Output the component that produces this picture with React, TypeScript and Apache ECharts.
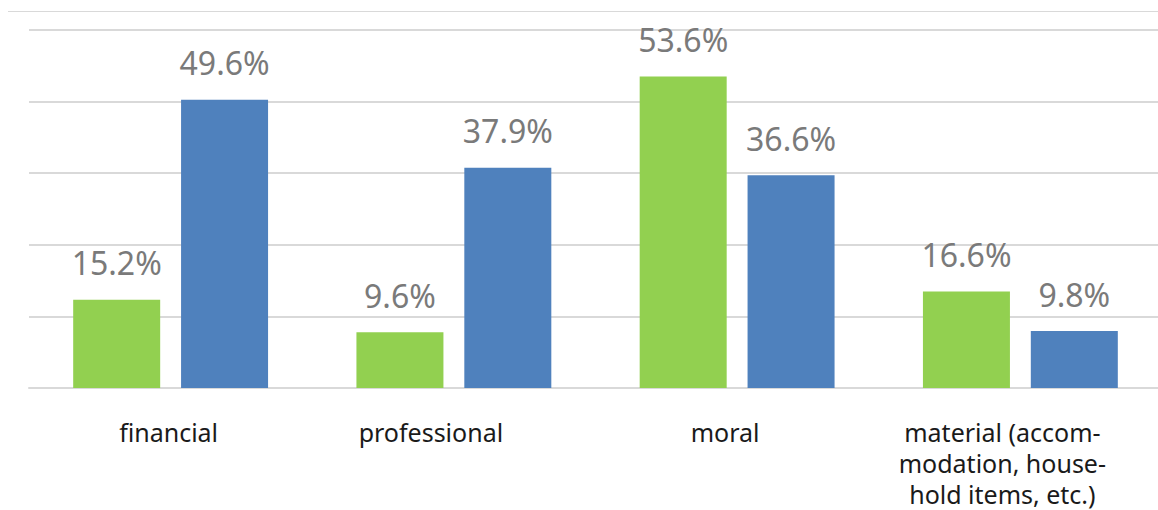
import React, { useEffect, useRef } from "react";
import * as echarts from "echarts";

const categories = [
  "financial",
  "professional",
  "moral",
  "material (accom-\nmodation, house-\nhold items, etc.)",
];
const greenValues = [15.2, 9.6, 53.6, 16.6];
const blueValues = [49.6, 37.9, 36.6, 9.8];

const AXIS_MAX = 61.6;
const AXIS_INTERVAL = 12.32;

// horizontal nudge (px, negative = left) of each category label, as in the reference
const LABEL_SHIFT = [-2, -23, -12, -18];

export default function App() {
  const ref = useRef<HTMLDivElement>(null);
  useEffect(() => {
    if (!ref.current) return;
    const chart = echarts.init(ref.current, null, { renderer: "svg" });
    const labelStyle = {
      show: true,
      position: "top" as const,
      distance: 21,
      formatter: "{c}%",
      color: "#7a7a7a",
      fontSize: 32,
      fontFamily: "Noto Sans",
    };
    chart.setOption({
      animation: false,
      backgroundColor: "#ffffff",
      grid: {
        left: 29,
        top: 30,
        right: 4,
        bottom: 122,
        containLabel: false,
        outerBoundsMode: "none",
      },
      xAxis: {
        type: "category",
        data: categories.map((c, i) => {
          const s = LABEL_SHIFT[i];
          return {
            value: c,
            textStyle: {
              padding: s < 0 ? [0, -2 * s, 0, 0] : [0, 0, 0, 2 * s],
            },
          };
        }),
        axisLine: { show: true, lineStyle: { color: "#d9d9d9", width: 2 } },
        axisTick: { show: false },
        axisLabel: {
          color: "#1a1a1a",
          fontSize: 25,
          lineHeight: 31,
          fontFamily: "Noto Sans",
          margin: 28,
          interval: 0,
          verticalAlign: "top",
        },
      },
      yAxis: {
        type: "value",
        min: 0,
        max: AXIS_MAX,
        interval: AXIS_INTERVAL,
        axisLabel: { show: false },
        axisLine: { show: false },
        axisTick: { show: false },
        splitLine: { show: true, lineStyle: { color: "#d9d9d9", width: 2 } },
      },
      graphic: [
        {
          type: "line",
          shape: { x1: 8, y1: 11.5, x2: 1166, y2: 11.5 },
          style: { stroke: "#d9d9d9", lineWidth: 1 },
        },
      ],
      series: [
        {
          type: "bar",
          data: greenValues,
          barWidth: 87,
          barGap: "24%",
          itemStyle: { color: "#92d050" },
          label: labelStyle,
        },
        {
          type: "bar",
          data: blueValues,
          barWidth: 87,
          barGap: "24%",
          itemStyle: { color: "#4f81bd" },
          label: labelStyle,
        },
      ],
    });
    return () => chart.dispose();
  }, []);
  return (
    <div
      style={{
        position: "absolute",
        left: 0,
        top: 0,
        width: 1158,
        height: 510,
        overflow: "hidden",
      }}
    >
      <div ref={ref} style={{ width: 1166, height: 510 }} />
    </div>
  );
}
